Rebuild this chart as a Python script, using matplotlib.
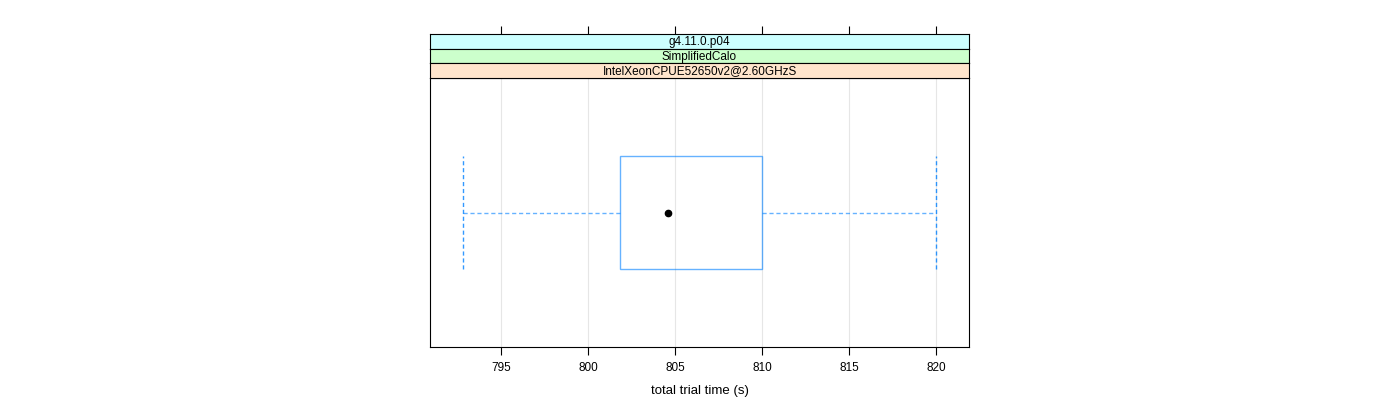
import matplotlib
matplotlib.use("Agg")
import matplotlib.pyplot as plt

plt.rcParams["font.family"] = ["Liberation Sans", "DejaVu Sans"]

# strip labels, top to bottom
strips = ["g4.11.0.p04", "SimplifiedCalo", "IntelXeonCPUE52650v2@2.60GHzS"]
strip_colors = ["#ccffff", "#ccffcc", "#ffe5cc"]

# box statistics (seconds)
whisker_lo = 792.8
q1 = 801.8
median = 804.6
q3 = 810.0
whisker_hi = 820.0

xticks = [795, 800, 805, 810, 815, 820]
xlim = (790.9, 821.9)

fig = plt.figure(figsize=(14, 4), dpi=100)

W, H = 1400, 400
left, right = 430, 969
panel_top, panel_bot = 78, 347
strip_h = (panel_top - 34) / 3

ax = fig.add_axes([left / W, 1 - panel_bot / H, (right - left) / W,
                   (panel_bot - panel_top) / H])
ax.set_xlim(*xlim)
ax.set_ylim(0.4, 1.6)

blue = "#0080ff"
for t in xticks:
    ax.axvline(t, color="#e6e6e6", lw=0.8, zorder=0)

# box
ax.add_patch(plt.Rectangle((q1, 0.75), q3 - q1, 0.5, fill=False,
                           edgecolor=blue, lw=1.0, alpha=0.6, zorder=2))
# whiskers
ax.plot([whisker_lo, q1], [1, 1], color=blue, lw=1.0, ls=(0, (3, 2)), alpha=0.6)
ax.plot([q3, whisker_hi], [1, 1], color=blue, lw=1.0, ls=(0, (3, 2)), alpha=0.6)
ax.plot([whisker_lo, whisker_lo], [0.75, 1.25], color=blue, lw=1.0,
        ls=(0, (3, 2)), alpha=0.8)
ax.plot([whisker_hi, whisker_hi], [0.75, 1.25], color=blue, lw=1.0,
        ls=(0, (3, 2)), alpha=0.8)
ax.plot([median], [1], "o", color="black", ms=4.5, zorder=3)

ax.set_yticks([])
ax.set_xticks(xticks)
ax.set_xticklabels([str(t) for t in xticks], fontsize=8.5)
ax.tick_params(axis="x", direction="out", length=6, width=0.8, pad=5)
ax.set_xlabel("total trial time (s)", fontsize=9.5, labelpad=8)
for s in ax.spines.values():
    s.set_linewidth(0.8)

# strips
for i, (lab, col) in enumerate(zip(strips, strip_colors)):
    top = 34 + i * strip_h
    sax = fig.add_axes([left / W, 1 - (top + strip_h) / H, (right - left) / W,
                        strip_h / H])
    sax.set_facecolor(col)
    sax.set_xlim(*xlim)
    sax.set_ylim(0, 1)
    sax.set_yticks([])
    if i == 0:
        sax.set_xticks(xticks)
        sax.xaxis.set_ticks_position("top")
        sax.tick_params(axis="x", direction="out", length=6, width=0.8,
                        labeltop=False, labelbottom=False)
    else:
        sax.set_xticks([])
    for s in sax.spines.values():
        s.set_linewidth(0.8)
    sax.text(0.5, 0.45, lab, transform=sax.transAxes, ha="center",
             va="center", fontsize=8.5)

fig.savefig("out.png", dpi=100)
